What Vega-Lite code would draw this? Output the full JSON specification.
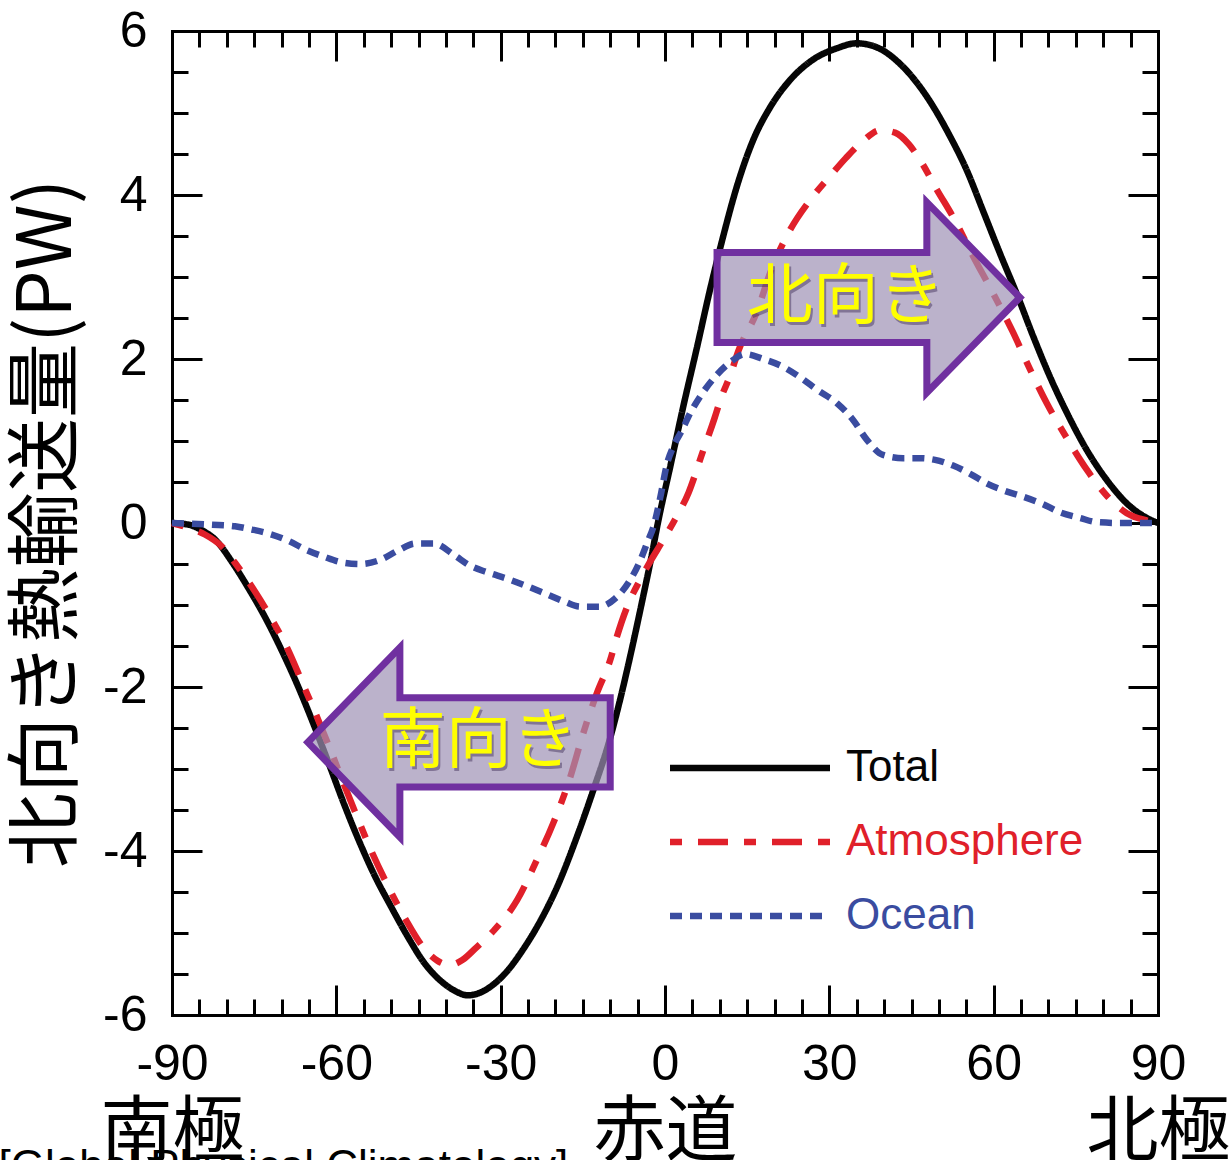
{
  "$schema": "https://vega.github.io/schema/vega-lite/v6.json",
  "autosize": "none",
  "width": 986,
  "height": 984,
  "padding": {"left": 172, "top": 31, "right": 72, "bottom": 145},
  "background": "white",
  "config": {
    "view": {"stroke": null},
    "axis": {"grid": false, "domainColor": "black", "domainWidth": 3, "domainCap": "square", "tickColor": "black", "tickWidth": 3, "labelColor": "black", "titleColor": "black", "labelOverlap": false, "labelFlush": false}
  },
  "title": {"text": "[Global Physical Climatology]", "orient": "bottom", "anchor": "start", "frame": "bounds", "font": "Liberation Sans", "fontSize": 44, "fontWeight": "normal", "color": "black", "offset": -22, "dx": -12},
  "datasets": {
    "transport": [
      {"s": "Total", "lat": -90, "pw": 0},
      {"s": "Total", "lat": -87, "pw": -0.02},
      {"s": "Total", "lat": -84.5, "pw": -0.09},
      {"s": "Total", "lat": -82, "pw": -0.21},
      {"s": "Total", "lat": -79, "pw": -0.48},
      {"s": "Total", "lat": -76, "pw": -0.8},
      {"s": "Total", "lat": -73, "pw": -1.15},
      {"s": "Total", "lat": -70, "pw": -1.55},
      {"s": "Total", "lat": -67, "pw": -1.99},
      {"s": "Total", "lat": -64, "pw": -2.48},
      {"s": "Total", "lat": -61, "pw": -3.0},
      {"s": "Total", "lat": -58.4, "pw": -3.46},
      {"s": "Total", "lat": -55.9, "pw": -3.87},
      {"s": "Total", "lat": -53, "pw": -4.3},
      {"s": "Total", "lat": -50, "pw": -4.68},
      {"s": "Total", "lat": -47, "pw": -5.04},
      {"s": "Total", "lat": -44, "pw": -5.36},
      {"s": "Total", "lat": -41, "pw": -5.58},
      {"s": "Total", "lat": -38.5, "pw": -5.7},
      {"s": "Total", "lat": -36, "pw": -5.76},
      {"s": "Total", "lat": -33.5, "pw": -5.72},
      {"s": "Total", "lat": -31, "pw": -5.61},
      {"s": "Total", "lat": -28.5, "pw": -5.44},
      {"s": "Total", "lat": -26, "pw": -5.21},
      {"s": "Total", "lat": -23.4, "pw": -4.93},
      {"s": "Total", "lat": -19.7, "pw": -4.44},
      {"s": "Total", "lat": -16.1, "pw": -3.83},
      {"s": "Total", "lat": -13.1, "pw": -3.26},
      {"s": "Total", "lat": -10, "pw": -2.62},
      {"s": "Total", "lat": -8, "pw": -2.1},
      {"s": "Total", "lat": -6, "pw": -1.52},
      {"s": "Total", "lat": -4, "pw": -0.9},
      {"s": "Total", "lat": -2.5, "pw": -0.42},
      {"s": "Total", "lat": -1.3, "pw": 0},
      {"s": "Total", "lat": 1, "pw": 0.7},
      {"s": "Total", "lat": 3.3, "pw": 1.41},
      {"s": "Total", "lat": 5.8, "pw": 2.13},
      {"s": "Total", "lat": 8.2, "pw": 2.84},
      {"s": "Total", "lat": 10.6, "pw": 3.49},
      {"s": "Total", "lat": 13.1, "pw": 4.1},
      {"s": "Total", "lat": 16.1, "pw": 4.67},
      {"s": "Total", "lat": 19.2, "pw": 5.07},
      {"s": "Total", "lat": 22.8, "pw": 5.4},
      {"s": "Total", "lat": 27, "pw": 5.65},
      {"s": "Total", "lat": 31.4, "pw": 5.79},
      {"s": "Total", "lat": 35, "pw": 5.85},
      {"s": "Total", "lat": 38.7, "pw": 5.8},
      {"s": "Total", "lat": 42.9, "pw": 5.6},
      {"s": "Total", "lat": 47.8, "pw": 5.2},
      {"s": "Total", "lat": 52, "pw": 4.72},
      {"s": "Total", "lat": 55.1, "pw": 4.3},
      {"s": "Total", "lat": 58.1, "pw": 3.8},
      {"s": "Total", "lat": 61.2, "pw": 3.28},
      {"s": "Total", "lat": 64.3, "pw": 2.78},
      {"s": "Total", "lat": 67.2, "pw": 2.28},
      {"s": "Total", "lat": 70.3, "pw": 1.78},
      {"s": "Total", "lat": 73.4, "pw": 1.34},
      {"s": "Total", "lat": 77, "pw": 0.89},
      {"s": "Total", "lat": 80.7, "pw": 0.52},
      {"s": "Total", "lat": 84.3, "pw": 0.24},
      {"s": "Total", "lat": 88, "pw": 0.06},
      {"s": "Total", "lat": 90, "pw": 0},

      {"s": "Atmosphere", "lat": -90, "pw": 0},
      {"s": "Atmosphere", "lat": -86.9, "pw": -0.06},
      {"s": "Atmosphere", "lat": -84, "pw": -0.14},
      {"s": "Atmosphere", "lat": -81, "pw": -0.28},
      {"s": "Atmosphere", "lat": -78, "pw": -0.53},
      {"s": "Atmosphere", "lat": -75, "pw": -0.82},
      {"s": "Atmosphere", "lat": -72, "pw": -1.15},
      {"s": "Atmosphere", "lat": -69, "pw": -1.52},
      {"s": "Atmosphere", "lat": -66, "pw": -1.98},
      {"s": "Atmosphere", "lat": -63, "pw": -2.45},
      {"s": "Atmosphere", "lat": -61.3, "pw": -2.73},
      {"s": "Atmosphere", "lat": -59, "pw": -3.12},
      {"s": "Atmosphere", "lat": -56.6, "pw": -3.52},
      {"s": "Atmosphere", "lat": -54, "pw": -3.94},
      {"s": "Atmosphere", "lat": -51, "pw": -4.37},
      {"s": "Atmosphere", "lat": -47.3, "pw": -4.84},
      {"s": "Atmosphere", "lat": -44.3, "pw": -5.16},
      {"s": "Atmosphere", "lat": -41.5, "pw": -5.34},
      {"s": "Atmosphere", "lat": -39.2, "pw": -5.39},
      {"s": "Atmosphere", "lat": -37, "pw": -5.33},
      {"s": "Atmosphere", "lat": -34.5, "pw": -5.18},
      {"s": "Atmosphere", "lat": -31.4, "pw": -4.98},
      {"s": "Atmosphere", "lat": -27, "pw": -4.6},
      {"s": "Atmosphere", "lat": -23.4, "pw": -4.11},
      {"s": "Atmosphere", "lat": -20.4, "pw": -3.66},
      {"s": "Atmosphere", "lat": -17.3, "pw": -3.1},
      {"s": "Atmosphere", "lat": -15, "pw": -2.58},
      {"s": "Atmosphere", "lat": -12.4, "pw": -2.07},
      {"s": "Atmosphere", "lat": -10, "pw": -1.67},
      {"s": "Atmosphere", "lat": -8.8, "pw": -1.39},
      {"s": "Atmosphere", "lat": -6.9, "pw": -1.02},
      {"s": "Atmosphere", "lat": -4.6, "pw": -0.7},
      {"s": "Atmosphere", "lat": -3.3, "pw": -0.54},
      {"s": "Atmosphere", "lat": 0, "pw": -0.17},
      {"s": "Atmosphere", "lat": 1.8, "pw": 0.04},
      {"s": "Atmosphere", "lat": 4.3, "pw": 0.37},
      {"s": "Atmosphere", "lat": 6.8, "pw": 0.85},
      {"s": "Atmosphere", "lat": 9, "pw": 1.27},
      {"s": "Atmosphere", "lat": 10.2, "pw": 1.52},
      {"s": "Atmosphere", "lat": 11.9, "pw": 1.8},
      {"s": "Atmosphere", "lat": 13.4, "pw": 2.1},
      {"s": "Atmosphere", "lat": 16.8, "pw": 2.58},
      {"s": "Atmosphere", "lat": 19.2, "pw": 3.05},
      {"s": "Atmosphere", "lat": 22.8, "pw": 3.57},
      {"s": "Atmosphere", "lat": 26.5, "pw": 3.94},
      {"s": "Atmosphere", "lat": 30, "pw": 4.22},
      {"s": "Atmosphere", "lat": 33, "pw": 4.45},
      {"s": "Atmosphere", "lat": 36, "pw": 4.65},
      {"s": "Atmosphere", "lat": 39.3, "pw": 4.79},
      {"s": "Atmosphere", "lat": 42, "pw": 4.76},
      {"s": "Atmosphere", "lat": 44.5, "pw": 4.62},
      {"s": "Atmosphere", "lat": 47, "pw": 4.38},
      {"s": "Atmosphere", "lat": 49.5, "pw": 4.08},
      {"s": "Atmosphere", "lat": 52.6, "pw": 3.73},
      {"s": "Atmosphere", "lat": 56.2, "pw": 3.26},
      {"s": "Atmosphere", "lat": 59.9, "pw": 2.8},
      {"s": "Atmosphere", "lat": 63.5, "pw": 2.33},
      {"s": "Atmosphere", "lat": 66.6, "pw": 1.88},
      {"s": "Atmosphere", "lat": 69.7, "pw": 1.46},
      {"s": "Atmosphere", "lat": 73.4, "pw": 1.03},
      {"s": "Atmosphere", "lat": 77, "pw": 0.65},
      {"s": "Atmosphere", "lat": 80.7, "pw": 0.33},
      {"s": "Atmosphere", "lat": 84.3, "pw": 0.12},
      {"s": "Atmosphere", "lat": 88, "pw": 0.03},
      {"s": "Atmosphere", "lat": 90, "pw": 0},

      {"s": "Ocean", "lat": -90, "pw": 0},
      {"s": "Ocean", "lat": -82.7, "pw": -0.02},
      {"s": "Ocean", "lat": -78.5, "pw": -0.04},
      {"s": "Ocean", "lat": -75.4, "pw": -0.08},
      {"s": "Ocean", "lat": -72.3, "pw": -0.13},
      {"s": "Ocean", "lat": -69, "pw": -0.21},
      {"s": "Ocean", "lat": -65.4, "pw": -0.33},
      {"s": "Ocean", "lat": -62.3, "pw": -0.41},
      {"s": "Ocean", "lat": -59, "pw": -0.48},
      {"s": "Ocean", "lat": -55.7, "pw": -0.5},
      {"s": "Ocean", "lat": -52, "pw": -0.45},
      {"s": "Ocean", "lat": -48.6, "pw": -0.33},
      {"s": "Ocean", "lat": -45.6, "pw": -0.25},
      {"s": "Ocean", "lat": -42.2, "pw": -0.25},
      {"s": "Ocean", "lat": -38.5, "pw": -0.39},
      {"s": "Ocean", "lat": -35.6, "pw": -0.52},
      {"s": "Ocean", "lat": -32.5, "pw": -0.6},
      {"s": "Ocean", "lat": -28.8, "pw": -0.68},
      {"s": "Ocean", "lat": -25.2, "pw": -0.77},
      {"s": "Ocean", "lat": -21.9, "pw": -0.86},
      {"s": "Ocean", "lat": -18.3, "pw": -0.96},
      {"s": "Ocean", "lat": -15.5, "pw": -1.02},
      {"s": "Ocean", "lat": -12, "pw": -1.02},
      {"s": "Ocean", "lat": -9.1, "pw": -0.92},
      {"s": "Ocean", "lat": -6.4, "pw": -0.7},
      {"s": "Ocean", "lat": -4.6, "pw": -0.47},
      {"s": "Ocean", "lat": -3.3, "pw": -0.25},
      {"s": "Ocean", "lat": -2, "pw": -0.02},
      {"s": "Ocean", "lat": -0.9, "pw": 0.3},
      {"s": "Ocean", "lat": 0.4, "pw": 0.73},
      {"s": "Ocean", "lat": 1.5, "pw": 0.93},
      {"s": "Ocean", "lat": 3.1, "pw": 1.13},
      {"s": "Ocean", "lat": 4.6, "pw": 1.34},
      {"s": "Ocean", "lat": 6.4, "pw": 1.54},
      {"s": "Ocean", "lat": 9.1, "pw": 1.78},
      {"s": "Ocean", "lat": 11.9, "pw": 1.96},
      {"s": "Ocean", "lat": 14.6, "pw": 2.06},
      {"s": "Ocean", "lat": 17.9, "pw": 2},
      {"s": "Ocean", "lat": 21.4, "pw": 1.91},
      {"s": "Ocean", "lat": 24.6, "pw": 1.78},
      {"s": "Ocean", "lat": 27.9, "pw": 1.62},
      {"s": "Ocean", "lat": 31.4, "pw": 1.46},
      {"s": "Ocean", "lat": 34.3, "pw": 1.26},
      {"s": "Ocean", "lat": 36.9, "pw": 1.01},
      {"s": "Ocean", "lat": 39.8, "pw": 0.83},
      {"s": "Ocean", "lat": 43.5, "pw": 0.79},
      {"s": "Ocean", "lat": 46.6, "pw": 0.79},
      {"s": "Ocean", "lat": 49.3, "pw": 0.77},
      {"s": "Ocean", "lat": 52.6, "pw": 0.7},
      {"s": "Ocean", "lat": 55.7, "pw": 0.6},
      {"s": "Ocean", "lat": 58.8, "pw": 0.48},
      {"s": "Ocean", "lat": 62.1, "pw": 0.39},
      {"s": "Ocean", "lat": 65.4, "pw": 0.32},
      {"s": "Ocean", "lat": 69, "pw": 0.23},
      {"s": "Ocean", "lat": 72.1, "pw": 0.13},
      {"s": "Ocean", "lat": 75.8, "pw": 0.06},
      {"s": "Ocean", "lat": 78.9, "pw": 0.01},
      {"s": "Ocean", "lat": 83.1, "pw": 0},
      {"s": "Ocean", "lat": 90, "pw": 0}
    ],
    "arrows": [
      {"dir": "north", "i": 0, "lat": 9.5, "pw": 3.3},
      {"dir": "north", "i": 1, "lat": 47.8, "pw": 3.3},
      {"dir": "north", "i": 2, "lat": 47.8, "pw": 3.91},
      {"dir": "north", "i": 3, "lat": 64.8, "pw": 2.75},
      {"dir": "north", "i": 4, "lat": 47.8, "pw": 1.59},
      {"dir": "north", "i": 5, "lat": 47.8, "pw": 2.2},
      {"dir": "north", "i": 6, "lat": 9.5, "pw": 2.2},
      {"dir": "north", "i": 7, "lat": 9.5, "pw": 3.3},
      {"dir": "south", "i": 0, "lat": -10, "pw": -2.13},
      {"dir": "south", "i": 1, "lat": -48.4, "pw": -2.13},
      {"dir": "south", "i": 2, "lat": -48.4, "pw": -1.52},
      {"dir": "south", "i": 3, "lat": -65.2, "pw": -2.675},
      {"dir": "south", "i": 4, "lat": -48.4, "pw": -3.83},
      {"dir": "south", "i": 5, "lat": -48.4, "pw": -3.22},
      {"dir": "south", "i": 6, "lat": -10, "pw": -3.22},
      {"dir": "south", "i": 7, "lat": -10, "pw": -2.13}
    ],
    "arrowLabels": [
      {"label": "北向き", "lat": 33, "pw": 2.75},
      {"label": "南向き", "lat": -34, "pw": -2.675}
    ]
  },
  "resolve": {"axis": {"x": "independent", "y": "independent"}},
  "layer": [
    {
      "mark": {"type": "rule", "color": "black", "strokeWidth": 3},
      "encoding": {
        "y": {"datum": 0, "type": "quantitative", "scale": {"domain": [-6, 6], "nice": false, "zero": false}, "axis": null}
      }
    },
    {
      "data": {"name": "transport"},
      "mark": {"type": "line", "strokeWidth": 6.5, "interpolate": "monotone", "strokeCap": "butt"},
      "encoding": {
        "x": {
          "field": "lat", "type": "quantitative",
          "scale": {"domain": [-90, 90], "nice": false, "zero": false},
          "axis": {
            "orient": "bottom", "title": null,
            "values": [-90, -85, -80, -75, -70, -65, -60, -55, -50, -45, -40, -35, -30, -25, -20, -15, -10, -5, 0, 5, 10, 15, 20, 25, 30, 35, 40, 45, 50, 55, 60, 65, 70, 75, 80, 85, 90],
            "tickSize": {"condition": {"test": "datum.value % 30 === 0", "value": -30}, "value": -16},
            "labelExpr": "datum.value % 30 === 0 ? '' + datum.value : ''",
            "labelFont": "Liberation Sans", "labelFontSize": 50, "labelPadding": 54
          }
        },
        "y": {
          "field": "pw", "type": "quantitative",
          "scale": {"domain": [-6, 6], "nice": false, "zero": false},
          "axis": {
            "orient": "left",
            "title": "北向き熱輸送量(PW)",
            "titleFont": "Noto Sans CJK JP", "titleFontSize": 75, "titleFontWeight": "normal", "titlePadding": 16,
            "values": [-6, -5.5, -5, -4.5, -4, -3.5, -3, -2.5, -2, -1.5, -1, -0.5, 0, 0.5, 1, 1.5, 2, 2.5, 3, 3.5, 4, 4.5, 5, 5.5, 6],
            "tickSize": {"condition": {"test": "datum.value % 2 === 0", "value": -30}, "value": -16},
            "labelExpr": "datum.value % 2 === 0 ? '' + datum.value : ''",
            "labelFont": "Liberation Sans", "labelFontSize": 50, "labelPadding": 55, "labelBaseline": "middle"
          }
        },
        "color": {
          "field": "s", "type": "nominal",
          "scale": {"domain": ["Total", "Atmosphere", "Ocean"], "range": ["#050505", "#e0202a", "#3a4ca0"]},
          "legend": {
            "title": null, "orient": "none", "legendX": 556, "legendY": 715,
            "symbolType": "M-8,0H8", "symbolSize": 400, "symbolStrokeWidth": 6.5,
            "labelFont": "Liberation Sans", "labelFontSize": 44, "labelLimit": 400, "labelOffset": 74,
            "labelColor": {"expr": "datum.label === 'Total' ? '#050505' : datum.label === 'Atmosphere' ? '#e0202a' : '#3a4ca0'"},
            "rowPadding": 30, "padding": 0
          }
        },
        "strokeDash": {
          "field": "s", "type": "nominal",
          "scale": {"domain": ["Total", "Atmosphere", "Ocean"], "range": [[1, 0], [12, 16, 30, 16], [12, 8]]}
        }
      }
    },
    {
      "data": {"name": "arrows"},
      "mark": {"type": "line", "fill": "#9e92b5", "fillOpacity": 0.7, "stroke": "#7030a0", "strokeWidth": 7, "strokeJoin": "miter", "strokeMiterLimit": 10, "strokeCap": "square", "interpolate": "linear"},
      "encoding": {
        "x": {
          "field": "lat", "type": "quantitative",
          "scale": {"domain": [-90, 90], "nice": false, "zero": false},
          "axis": {
            "orient": "top", "title": null, "labels": false,
            "values": [-90, -85, -80, -75, -70, -65, -60, -55, -50, -45, -40, -35, -30, -25, -20, -15, -10, -5, 0, 5, 10, 15, 20, 25, 30, 35, 40, 45, 50, 55, 60, 65, 70, 75, 80, 85, 90],
            "tickSize": {"condition": {"test": "datum.value % 30 === 0", "value": -30}, "value": -16}
          }
        },
        "y": {
          "field": "pw", "type": "quantitative",
          "scale": {"domain": [-6, 6], "nice": false, "zero": false},
          "axis": {
            "orient": "right", "title": null, "labels": false,
            "values": [-6, -5.5, -5, -4.5, -4, -3.5, -3, -2.5, -2, -1.5, -1, -0.5, 0, 0.5, 1, 1.5, 2, 2.5, 3, 3.5, 4, 4.5, 5, 5.5, 6],
            "tickSize": {"condition": {"test": "datum.value % 2 === 0", "value": -30}, "value": -16}
          }
        },
        "detail": {"field": "dir", "type": "nominal"},
        "order": {"field": "i", "type": "quantitative"}
      }
    },
    {
      "data": {"name": "arrowLabels"},
      "mark": {"type": "text", "font": "Noto Sans CJK JP", "fontSize": 66, "color": "#3d2a55", "opacity": 0.45, "dx": 2, "dy": 3, "align": "center", "baseline": "middle"},
      "encoding": {
        "x": {"field": "lat", "type": "quantitative", "scale": {"domain": [-90, 90], "nice": false, "zero": false}, "axis": null},
        "y": {"field": "pw", "type": "quantitative", "scale": {"domain": [-6, 6], "nice": false, "zero": false}, "axis": null},
        "text": {"field": "label"}
      }
    },
    {
      "data": {"name": "arrowLabels"},
      "mark": {"type": "text", "font": "Noto Sans CJK JP", "fontSize": 66, "color": "#ffff00", "align": "center", "baseline": "middle"},
      "encoding": {
        "x": {
          "field": "lat", "type": "quantitative",
          "scale": {"domain": [-90, 90], "nice": false, "zero": false},
          "axis": {
            "orient": "bottom", "title": null, "values": [-90, 0, 90], "ticks": false, "domain": false,
            "labelExpr": "datum.value === -90 ? '南極' : datum.value === 0 ? '赤道' : '北極'",
            "labelFont": "Noto Sans CJK JP", "labelFontSize": 72, "labelPadding": 82
          }
        },
        "y": {"field": "pw", "type": "quantitative", "scale": {"domain": [-6, 6], "nice": false, "zero": false}, "axis": null},
        "text": {"field": "label"}
      }
    }
  ]
}
